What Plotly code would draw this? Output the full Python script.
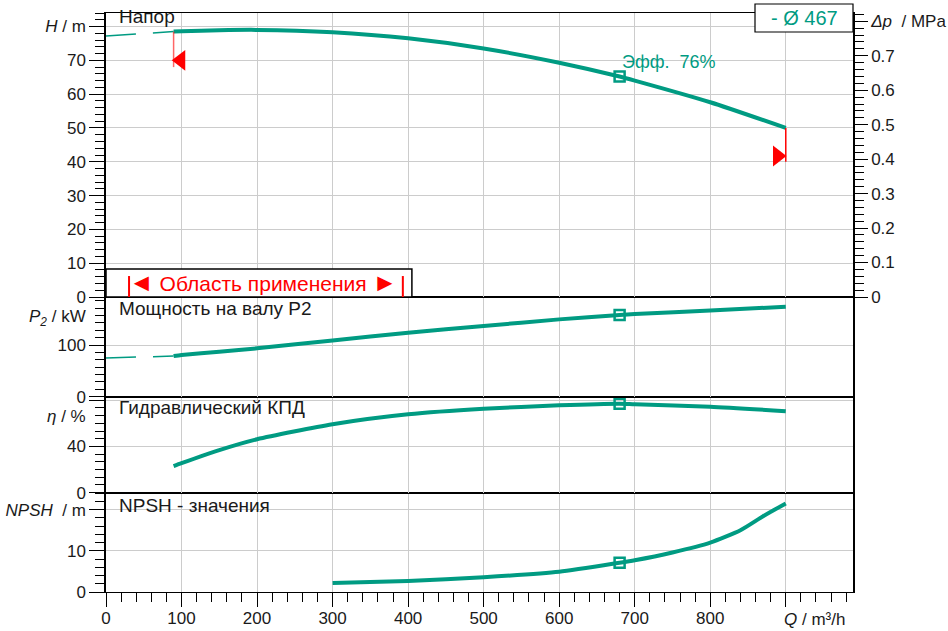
import plotly.graph_objects as go

# ---------------- data ----------------
Q_ext = [0, 89.5]
H_ext = [77.2, 78.5]
P2_ext = [75.0, 78.7]

Q_curve = [89.5, 100, 150, 200, 300, 400, 500, 600, 680, 700, 800, 900]
H_vals = [78.5, 78.6, 78.9, 79.0, 78.3, 76.5, 73.5, 69.3, 65.2, 64.0, 57.6, 50.0]
P2_vals = [78.7, 80.7, 87.0, 93.6, 109.0, 123.8, 136.8, 149.7, 158.0, 160.0, 167.0, 174.0]
ETA_vals = [23.0, 25.5, 36.8, 46.2, 59.2, 67.8, 72.6, 75.5, 76.9, 76.4, 74.4, 70.4]

Q_npsh = [300, 400, 500, 600, 680, 700, 750, 800, 840, 870, 900]
NPSH_vals = [2.2, 2.7, 3.6, 4.9, 7.1, 7.7, 9.6, 12.0, 15.0, 18.4, 21.5]

Q_duty = [680]
H_duty = [65.2]
P2_duty = [158.0]
ETA_duty = [76.9]
NPSH_duty = [7.1]
eff_label = "Эфф.\u00a0\u00a076%"

Q_limits = [89.5, 900]
H_limit_top = [78.5, 50.0]
H_limit_bottom = [68.0, 40.0]
tri_Q = [99, 889]
tri_H = [70.0, 41.7]

app_bars_Q = [30.5, 393]
app_bar_H = [0, 6.2]
app_label = "Область применения"

x_ticks = [0, 100, 200, 300, 400, 500, 600, 700, 800, 900]
x_ticktext = ["0", "100", "200", "300", "400", "500", "600", "700", "800", ""]
H_ticks = [0, 10, 20, 30, 40, 50, 60, 70, 80]
H_ticktext = ["0", "10", "20", "30", "40", "50", "60", "70", "<i>H</i> / m"]
DP_ticks = [0, 0.1, 0.2, 0.3, 0.4, 0.5, 0.6, 0.7, 0.8]
DP_ticktext = ["0", "0.1", "0.2", "0.3", "0.4", "0.5", "0.6", "0.7", "<i>Δp</i>\u00a0 / MPa"]
P2_ticks = [0, 100]
ETA_ticks = [0, 40, 80]
ETA_ticktext = ["0", "40", ""]
NPSH_ticks = [0, 10, 20]
NPSH_ticktext = ["0", "10", "<i>NPSH</i>\u00a0 / m"]

# ---------------- style ----------------
TEAL = "#009b82"
RED = "#ff0000"
GRID = "#cccccc"
FONT = "Liberation Sans, Arial, sans-serif"
TF = 17

W, H = 948, 631
ML, MR, MT, MB = 106, 95, 13, 39
PW = W - ML - MR
PH = H - MT - MB


def pxx(px):
    return (px - ML) / PW


def pxy(py):
    return (H - MB - py) / PH


d4 = [0, pxy(492.7)]
d3 = [pxy(492.7), pxy(396.7)]
d2 = [pxy(396.7), pxy(297)]
d1 = [pxy(297), 1]

fig = go.Figure()

xline = dict(showline=True, mirror=True, linecolor="black", linewidth=1, automargin=False)
yline = dict(showline=True, mirror=True, linecolor="black", linewidth=1.5, automargin=False)

# curves
fig.add_trace(go.Scatter(x=Q_ext, y=H_ext, mode="lines", xaxis="x4", yaxis="y",
                         line=dict(color=TEAL, width=1.5, dash="30px,17px")))
fig.add_trace(go.Scatter(x=Q_curve, y=H_vals, mode="lines", xaxis="x4", yaxis="y",
                         line=dict(color=TEAL, width=4, shape="spline", smoothing=0.6)))
fig.add_trace(go.Scatter(x=Q_ext, y=P2_ext, mode="lines", xaxis="x3", yaxis="y2",
                         line=dict(color=TEAL, width=1.5, dash="30px,17px")))
fig.add_trace(go.Scatter(x=Q_curve, y=P2_vals, mode="lines", xaxis="x3", yaxis="y2",
                         line=dict(color=TEAL, width=4, shape="spline", smoothing=0.6)))
fig.add_trace(go.Scatter(x=Q_curve, y=ETA_vals, mode="lines", xaxis="x2", yaxis="y3",
                         line=dict(color=TEAL, width=4, shape="spline", smoothing=0.6)))
fig.add_trace(go.Scatter(x=Q_npsh, y=NPSH_vals, mode="lines", xaxis="x", yaxis="y4",
                         line=dict(color=TEAL, width=4, shape="spline", smoothing=0.6)))

# red limit lines + triangles
for i in range(len(Q_limits)):
    fig.add_trace(go.Scatter(x=[Q_limits[i], Q_limits[i]], y=[H_limit_top[i], H_limit_bottom[i]],
                             mode="lines", xaxis="x4", yaxis="y",
                             line=dict(color="rgba(255,0,0,0.6)" if i == 0 else RED, width=1.5)))
fig.add_trace(go.Scatter(x=tri_Q[:1], y=tri_H[:1], mode="markers", xaxis="x4", yaxis="y",
                         marker=dict(symbol="triangle-left", size=18, color=RED)))
fig.add_trace(go.Scatter(x=tri_Q[1:], y=tri_H[1:], mode="markers", xaxis="x4", yaxis="y",
                         marker=dict(symbol="triangle-right", size=18, color=RED)))

# application range box (white fill) + red bars
fig.add_trace(go.Scatter(x=[0, 405, 405, 0, 0], y=[0, 0, 8.3, 8.3, 0], mode="lines",
                         fill="toself", fillcolor="white", xaxis="x4", yaxis="y",
                         line=dict(color="black", width=1.5)))
for q in app_bars_Q:
    fig.add_trace(go.Scatter(x=[q, q], y=app_bar_H, mode="lines", xaxis="x4", yaxis="y",
                             line=dict(color=RED, width=2)))

# duty point markers
mk = dict(symbol="square-open", size=10, color=TEAL, line=dict(width=2.5, color=TEAL))
fig.add_trace(go.Scatter(x=Q_duty, y=H_duty, mode="markers", xaxis="x4", yaxis="y", marker=mk))
fig.add_trace(go.Scatter(x=Q_duty, y=P2_duty, mode="markers", xaxis="x3", yaxis="y2", marker=mk))
fig.add_trace(go.Scatter(x=Q_duty, y=ETA_duty, mode="markers", xaxis="x2", yaxis="y3", marker=mk))
fig.add_trace(go.Scatter(x=Q_duty, y=NPSH_duty, mode="markers", xaxis="x", yaxis="y4", marker=mk))

# dummy trace for right axis
fig.add_trace(go.Scatter(x=[None], y=[None], xaxis="x4", yaxis="y5", showlegend=False))

xr = [0, 989]
minor_x = dict(tickmode="linear", tick0=0, dtick=20, ticklen=9, ticks="outside",
               tickcolor="black", showgrid=False)

fig.update_layout(
    width=W, height=H,
    margin=dict(l=ML, r=MR, t=MT, b=MB, pad=0, autoexpand=False),
    paper_bgcolor="white", plot_bgcolor="white",
    showlegend=False,
    font=dict(family=FONT, size=TF, color="#1a1a1a"),
    xaxis=dict(domain=[0, 1], anchor="y4", range=xr, tickmode="array", tickvals=x_ticks,
               ticktext=x_ticktext, ticks="outside", ticklen=14, tickwidth=1.2, tickcolor="black",
               ticklabelstandoff=-3,
               showgrid=True, gridcolor=GRID, gridwidth=1.2, zeroline=False, minor=minor_x,
               **xline),
    xaxis2=dict(domain=[0, 1], anchor="y3", range=xr, matches="x", tickmode="array",
                tickvals=x_ticks, showticklabels=False, ticks="", showgrid=True,
                gridcolor=GRID, gridwidth=1.2, zeroline=False, **xline),
    xaxis3=dict(domain=[0, 1], anchor="y2", range=xr, matches="x", tickmode="array",
                tickvals=x_ticks, showticklabels=False, ticks="", showgrid=True,
                gridcolor=GRID, gridwidth=1.2, zeroline=False, **xline),
    xaxis4=dict(domain=[0, 1], anchor="y", range=xr, matches="x", tickmode="array",
                tickvals=x_ticks, showticklabels=False, ticks="", showgrid=True,
                gridcolor=GRID, gridwidth=1.2, zeroline=False, **xline),
    yaxis=dict(domain=d1, anchor="x4", range=[0, 84], tickmode="array", tickvals=H_ticks,
               ticktext=H_ticktext, ticks="outside", ticklen=15, tickwidth=1.2, tickcolor="black",
               showgrid=True, gridcolor=GRID, gridwidth=1.2, zeroline=False,
               minor=dict(tickmode="linear", tick0=0, dtick=2, ticklen=9, ticks="outside",
                          tickcolor="black", showgrid=False),
               **yline),
    yaxis5=dict(overlaying="y", side="right", anchor="x4", range=[0, 84 * 0.00981],
                tickmode="array", tickvals=DP_ticks, ticktext=DP_ticktext, ticks="outside",
                ticklen=13, tickwidth=1.2, tickcolor="black", showgrid=False, zeroline=False,
                minor=dict(tickmode="linear", tick0=0, dtick=0.02, ticklen=9, ticks="outside",
                           tickcolor="black", showgrid=False),
                showline=True, linecolor="black", linewidth=1.5, automargin=False),
    yaxis2=dict(domain=d2, anchor="x3", range=[0, 193], tickmode="array", tickvals=P2_ticks,
                ticks="outside", ticklen=15, tickwidth=1.2, tickcolor="black",
                showgrid=True, gridcolor=GRID, gridwidth=1.2, zeroline=False,
                minor=dict(tickmode="linear", tick0=0, dtick=100 / 7, ticklen=9, ticks="outside",
                           tickcolor="black", showgrid=False),
                **yline),
    yaxis3=dict(domain=d3, anchor="x2", range=[0, 83], tickmode="array", tickvals=ETA_ticks,
                ticktext=ETA_ticktext, ticks="outside", ticklen=15, tickwidth=1.2,
                tickcolor="black", showgrid=True, gridcolor=GRID, gridwidth=1.2, zeroline=False,
                minor=dict(tickmode="linear", tick0=0, dtick=40 / 6, ticklen=9, ticks="outside",
                           tickcolor="black", showgrid=False),
                **yline),
    yaxis4=dict(domain=d4, anchor="x", range=[0, 24.1], tickmode="array", tickvals=NPSH_ticks,
                ticktext=NPSH_ticktext, ticks="outside", ticklen=15, tickwidth=1.2,
                tickcolor="black", showgrid=True, gridcolor=GRID, gridwidth=1.2, zeroline=False,
                minor=dict(tickmode="linear", tick0=0, dtick=2, ticklen=9, ticks="outside",
                           tickcolor="black", showgrid=False),
                **yline),
)

ann = []
TITLE_F = 19
# panel titles
for txt, py in [("Напор", 16), ("Мощность на валу P2", 308), ("Гидравлический КПД", 407),
                ("NPSH - значения", 505)]:
    ann.append(dict(text=txt, xref="paper", yref="paper", x=pxx(117), y=pxy(py),
                    xanchor="left", yanchor="middle", showarrow=False,
                    font=dict(size=TITLE_F, color="#1a1a1a")))
# unit labels (left)
for txt, py in [("<i>P<sub>2</sub></i> / kW", 318), ("<i>η</i> / %", 416.7)]:
    ann.append(dict(text=txt, xref="paper", yref="paper", x=pxx(88), y=pxy(py),
                    xanchor="right", yanchor="middle", showarrow=False,
                    font=dict(size=TF, color="#1a1a1a")))
# Q label
ann.append(dict(text="<i>Q</i> / m³/h", xref="paper", yref="paper", x=pxx(782), y=pxy(619),
                xanchor="left", yanchor="middle", showarrow=False,
                font=dict(size=TF, color="#1a1a1a")))
# efficiency label
ann.append(dict(text=eff_label, xref="x4", yref="y", x=Q_duty[0], y=69.5,
                xanchor="left", yanchor="middle", showarrow=False,
                font=dict(size=18, color=TEAL)))
# application range text
ann.append(dict(text="<span style='font-size:25px'>◄</span> " + app_label +
                " <span style='font-size:25px'>►</span>",
                xref="x4", yref="y", x=208, y=4.3,
                xanchor="center", yanchor="middle", showarrow=False,
                font=dict(size=21, color=RED)))
# legend box text
ann.append(dict(text="- Ø 467", xref="paper", yref="paper", x=pxx(804), y=pxy(18),
                xanchor="center", yanchor="middle", showarrow=False,
                font=dict(size=20, color=TEAL)))

fig.add_shape(type="rect", xref="paper", yref="paper", x0=pxx(755), x1=1.0,
              y0=pxy(32), y1=pxy(4), line=dict(color="black", width=1.2),
              fillcolor="white", layer="above")
fig.update_layout(annotations=ann)

fig.write_html("out.html", config={"displayModeBar": False},
               post_script="document.body.style.margin='0';document.body.style.padding='0';")
